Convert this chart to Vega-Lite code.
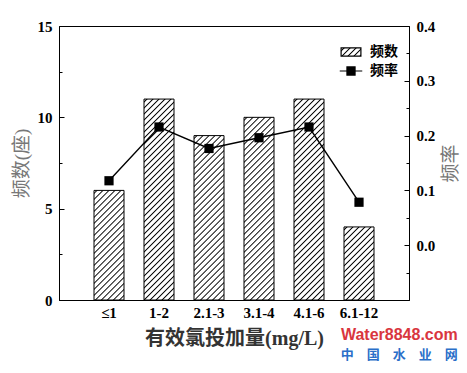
{
"$schema": "https://vega.github.io/schema/vega-lite/v6.json",
"width": 350, "height": 274,
"autosize": "none",
"padding": {"left": 59, "top": 26, "right": 58, "bottom": 73},
"background": "white",
"config": {
  "view": {"stroke": "#000", "strokeWidth": 1},
  "font": "Liberation Serif, Noto Sans CJK SC",
  "axis": {"domainColor": "#000", "tickColor": "#000", "labelColor": "#000", "grid": false, "labelFont": "Liberation Serif", "titleFont": "Liberation Serif, Noto Sans CJK SC"}
},
"title": {"text": "Water8848.com", "subtitle": "中　国　水　业　网", "orient": "bottom", "anchor": "end", "frame": "bounds", "offset": -21, "dx": -3, "font": "Liberation Sans", "fontSize": 16, "fontWeight": "bold", "color": "#d9363e", "subtitleFont": "Noto Sans CJK SC", "subtitleFontSize": 13, "subtitleColor": "#2a6fc9", "subtitleFontWeight": "bold", "subtitlePadding": 6},
"data": {"values": [
  {"cat": "≤1", "count": 6, "rate": 0.1176},
  {"cat": "1-2", "count": 11, "rate": 0.2157},
  {"cat": "2.1-3", "count": 9, "rate": 0.1765},
  {"cat": "3.1-4", "count": 10, "rate": 0.1961},
  {"cat": "4.1-6", "count": 11, "rate": 0.2157},
  {"cat": "6.1-12", "count": 4, "rate": 0.0784}
]},
"layer": [
  {"mark": {"type": "bar", "stroke": "#000", "strokeWidth": 1},
   "encoding": {
     "x": {"field": "cat", "type": "nominal", "scale": {"domain": ["≤1", "1-2", "2.1-3", "3.1-4", "4.1-6", "6.1-12"], "paddingInner": 0.4, "paddingOuter": 0.7},
           "axis": {"title": "有效氯投加量(mg/L)", "labelAngle": 0, "ticks": false, "labelFontSize": 15, "labelFontWeight": "bold", "labelPadding": 5, "titleFontSize": 20, "titleFontWeight": "bold", "titleColor": "#333", "titlePadding": 8}},
     "y": {"field": "count", "type": "quantitative", "scale": {"domain": [0, 15], "nice": false},
           "axis": {"orient": "left", "values": [0, 5, 10, 15], "tickSize": -5, "labelPadding": 12, "labelFontSize": 15, "labelFontWeight": "bold", "title": "频数(座)", "titleFontSize": 19, "titleFontWeight": "normal", "titleColor": "#777", "titlePadding": 6}},
     "fill": {"condition": [
       {"test": "datum.count == 4", "value": {"gradient": "linear", "x1": 0, "y1": 0, "x2": 1.154, "y2": 2.811, "stops": [
{"offset":0.007,"color":"#fff"},{"offset":0.0125,"color":"#000"},{"offset":0.018,"color":"#fff"},
{"offset":0.032,"color":"#fff"},{"offset":0.0375,"color":"#000"},{"offset":0.043,"color":"#fff"},
{"offset":0.057,"color":"#fff"},{"offset":0.0625,"color":"#000"},{"offset":0.068,"color":"#fff"},
{"offset":0.082,"color":"#fff"},{"offset":0.0875,"color":"#000"},{"offset":0.093,"color":"#fff"},
{"offset":0.107,"color":"#fff"},{"offset":0.1125,"color":"#000"},{"offset":0.118,"color":"#fff"},
{"offset":0.132,"color":"#fff"},{"offset":0.1375,"color":"#000"},{"offset":0.143,"color":"#fff"},
{"offset":0.157,"color":"#fff"},{"offset":0.1625,"color":"#000"},{"offset":0.168,"color":"#fff"},
{"offset":0.182,"color":"#fff"},{"offset":0.1875,"color":"#000"},{"offset":0.193,"color":"#fff"},
{"offset":0.207,"color":"#fff"},{"offset":0.2125,"color":"#000"},{"offset":0.218,"color":"#fff"},
{"offset":0.232,"color":"#fff"},{"offset":0.2375,"color":"#000"},{"offset":0.243,"color":"#fff"},
{"offset":0.257,"color":"#fff"},{"offset":0.2625,"color":"#000"},{"offset":0.268,"color":"#fff"},
{"offset":0.282,"color":"#fff"},{"offset":0.2875,"color":"#000"},{"offset":0.293,"color":"#fff"},
{"offset":0.307,"color":"#fff"},{"offset":0.3125,"color":"#000"},{"offset":0.318,"color":"#fff"},
{"offset":0.332,"color":"#fff"},{"offset":0.3375,"color":"#000"},{"offset":0.343,"color":"#fff"},
{"offset":0.357,"color":"#fff"},{"offset":0.3625,"color":"#000"},{"offset":0.368,"color":"#fff"},
{"offset":0.382,"color":"#fff"},{"offset":0.3875,"color":"#000"},{"offset":0.393,"color":"#fff"},
{"offset":0.407,"color":"#fff"},{"offset":0.4125,"color":"#000"},{"offset":0.418,"color":"#fff"},
{"offset":0.432,"color":"#fff"},{"offset":0.4375,"color":"#000"},{"offset":0.443,"color":"#fff"}
       ]}},
       {"test": "datum.count == 6", "value": {"gradient": "linear", "x1": 0, "y1": 0, "x2": 0.5576, "y2": 2.0371, "stops": [
{"offset":0.007,"color":"#fff"},{"offset":0.0125,"color":"#000"},{"offset":0.018,"color":"#fff"},
{"offset":0.032,"color":"#fff"},{"offset":0.0375,"color":"#000"},{"offset":0.043,"color":"#fff"},
{"offset":0.057,"color":"#fff"},{"offset":0.0625,"color":"#000"},{"offset":0.068,"color":"#fff"},
{"offset":0.082,"color":"#fff"},{"offset":0.0875,"color":"#000"},{"offset":0.093,"color":"#fff"},
{"offset":0.107,"color":"#fff"},{"offset":0.1125,"color":"#000"},{"offset":0.118,"color":"#fff"},
{"offset":0.132,"color":"#fff"},{"offset":0.1375,"color":"#000"},{"offset":0.143,"color":"#fff"},
{"offset":0.157,"color":"#fff"},{"offset":0.1625,"color":"#000"},{"offset":0.168,"color":"#fff"},
{"offset":0.182,"color":"#fff"},{"offset":0.1875,"color":"#000"},{"offset":0.193,"color":"#fff"},
{"offset":0.207,"color":"#fff"},{"offset":0.2125,"color":"#000"},{"offset":0.218,"color":"#fff"},
{"offset":0.232,"color":"#fff"},{"offset":0.2375,"color":"#000"},{"offset":0.243,"color":"#fff"},
{"offset":0.257,"color":"#fff"},{"offset":0.2625,"color":"#000"},{"offset":0.268,"color":"#fff"},
{"offset":0.282,"color":"#fff"},{"offset":0.2875,"color":"#000"},{"offset":0.293,"color":"#fff"},
{"offset":0.307,"color":"#fff"},{"offset":0.3125,"color":"#000"},{"offset":0.318,"color":"#fff"},
{"offset":0.332,"color":"#fff"},{"offset":0.3375,"color":"#000"},{"offset":0.343,"color":"#fff"},
{"offset":0.357,"color":"#fff"},{"offset":0.3625,"color":"#000"},{"offset":0.368,"color":"#fff"},
{"offset":0.382,"color":"#fff"},{"offset":0.3875,"color":"#000"},{"offset":0.393,"color":"#fff"},
{"offset":0.407,"color":"#fff"},{"offset":0.4125,"color":"#000"},{"offset":0.418,"color":"#fff"},
{"offset":0.432,"color":"#fff"},{"offset":0.4375,"color":"#000"},{"offset":0.443,"color":"#fff"},
{"offset":0.457,"color":"#fff"},{"offset":0.4625,"color":"#000"},{"offset":0.468,"color":"#fff"},
{"offset":0.482,"color":"#fff"},{"offset":0.4875,"color":"#000"},{"offset":0.493,"color":"#fff"},
{"offset":0.507,"color":"#fff"},{"offset":0.5125,"color":"#000"},{"offset":0.518,"color":"#fff"},
{"offset":0.532,"color":"#fff"},{"offset":0.5375,"color":"#000"},{"offset":0.543,"color":"#fff"},
{"offset":0.557,"color":"#fff"},{"offset":0.5625,"color":"#000"},{"offset":0.568,"color":"#fff"},
{"offset":0.582,"color":"#fff"},{"offset":0.5875,"color":"#000"},{"offset":0.593,"color":"#fff"}
       ]}},
       {"test": "datum.count == 9", "value": {"gradient": "linear", "x1": 0, "y1": 0, "x2": 0.2578, "y2": 1.4128, "stops": [
{"offset":0.007,"color":"#fff"},{"offset":0.0125,"color":"#000"},{"offset":0.018,"color":"#fff"},
{"offset":0.032,"color":"#fff"},{"offset":0.0375,"color":"#000"},{"offset":0.043,"color":"#fff"},
{"offset":0.057,"color":"#fff"},{"offset":0.0625,"color":"#000"},{"offset":0.068,"color":"#fff"},
{"offset":0.082,"color":"#fff"},{"offset":0.0875,"color":"#000"},{"offset":0.093,"color":"#fff"},
{"offset":0.107,"color":"#fff"},{"offset":0.1125,"color":"#000"},{"offset":0.118,"color":"#fff"},
{"offset":0.132,"color":"#fff"},{"offset":0.1375,"color":"#000"},{"offset":0.143,"color":"#fff"},
{"offset":0.157,"color":"#fff"},{"offset":0.1625,"color":"#000"},{"offset":0.168,"color":"#fff"},
{"offset":0.182,"color":"#fff"},{"offset":0.1875,"color":"#000"},{"offset":0.193,"color":"#fff"},
{"offset":0.207,"color":"#fff"},{"offset":0.2125,"color":"#000"},{"offset":0.218,"color":"#fff"},
{"offset":0.232,"color":"#fff"},{"offset":0.2375,"color":"#000"},{"offset":0.243,"color":"#fff"},
{"offset":0.257,"color":"#fff"},{"offset":0.2625,"color":"#000"},{"offset":0.268,"color":"#fff"},
{"offset":0.282,"color":"#fff"},{"offset":0.2875,"color":"#000"},{"offset":0.293,"color":"#fff"},
{"offset":0.307,"color":"#fff"},{"offset":0.3125,"color":"#000"},{"offset":0.318,"color":"#fff"},
{"offset":0.332,"color":"#fff"},{"offset":0.3375,"color":"#000"},{"offset":0.343,"color":"#fff"},
{"offset":0.357,"color":"#fff"},{"offset":0.3625,"color":"#000"},{"offset":0.368,"color":"#fff"},
{"offset":0.382,"color":"#fff"},{"offset":0.3875,"color":"#000"},{"offset":0.393,"color":"#fff"},
{"offset":0.407,"color":"#fff"},{"offset":0.4125,"color":"#000"},{"offset":0.418,"color":"#fff"},
{"offset":0.432,"color":"#fff"},{"offset":0.4375,"color":"#000"},{"offset":0.443,"color":"#fff"},
{"offset":0.457,"color":"#fff"},{"offset":0.4625,"color":"#000"},{"offset":0.468,"color":"#fff"},
{"offset":0.482,"color":"#fff"},{"offset":0.4875,"color":"#000"},{"offset":0.493,"color":"#fff"},
{"offset":0.507,"color":"#fff"},{"offset":0.5125,"color":"#000"},{"offset":0.518,"color":"#fff"},
{"offset":0.532,"color":"#fff"},{"offset":0.5375,"color":"#000"},{"offset":0.543,"color":"#fff"},
{"offset":0.557,"color":"#fff"},{"offset":0.5625,"color":"#000"},{"offset":0.568,"color":"#fff"},
{"offset":0.582,"color":"#fff"},{"offset":0.5875,"color":"#000"},{"offset":0.593,"color":"#fff"},
{"offset":0.607,"color":"#fff"},{"offset":0.6125,"color":"#000"},{"offset":0.618,"color":"#fff"},
{"offset":0.632,"color":"#fff"},{"offset":0.6375,"color":"#000"},{"offset":0.643,"color":"#fff"},
{"offset":0.657,"color":"#fff"},{"offset":0.6625,"color":"#000"},{"offset":0.668,"color":"#fff"},
{"offset":0.682,"color":"#fff"},{"offset":0.6875,"color":"#000"},{"offset":0.693,"color":"#fff"},
{"offset":0.707,"color":"#fff"},{"offset":0.7125,"color":"#000"},{"offset":0.718,"color":"#fff"},
{"offset":0.732,"color":"#fff"},{"offset":0.7375,"color":"#000"},{"offset":0.743,"color":"#fff"},
{"offset":0.757,"color":"#fff"},{"offset":0.7625,"color":"#000"},{"offset":0.768,"color":"#fff"},
{"offset":0.782,"color":"#fff"},{"offset":0.7875,"color":"#000"},{"offset":0.793,"color":"#fff"},
{"offset":0.807,"color":"#fff"},{"offset":0.8125,"color":"#000"},{"offset":0.818,"color":"#fff"}
       ]}},
       {"test": "datum.count == 10", "value": {"gradient": "linear", "x1": 0, "y1": 0, "x2": 0.2101, "y2": 1.2793, "stops": [
{"offset":0.007,"color":"#fff"},{"offset":0.0125,"color":"#000"},{"offset":0.018,"color":"#fff"},
{"offset":0.032,"color":"#fff"},{"offset":0.0375,"color":"#000"},{"offset":0.043,"color":"#fff"},
{"offset":0.057,"color":"#fff"},{"offset":0.0625,"color":"#000"},{"offset":0.068,"color":"#fff"},
{"offset":0.082,"color":"#fff"},{"offset":0.0875,"color":"#000"},{"offset":0.093,"color":"#fff"},
{"offset":0.107,"color":"#fff"},{"offset":0.1125,"color":"#000"},{"offset":0.118,"color":"#fff"},
{"offset":0.132,"color":"#fff"},{"offset":0.1375,"color":"#000"},{"offset":0.143,"color":"#fff"},
{"offset":0.157,"color":"#fff"},{"offset":0.1625,"color":"#000"},{"offset":0.168,"color":"#fff"},
{"offset":0.182,"color":"#fff"},{"offset":0.1875,"color":"#000"},{"offset":0.193,"color":"#fff"},
{"offset":0.207,"color":"#fff"},{"offset":0.2125,"color":"#000"},{"offset":0.218,"color":"#fff"},
{"offset":0.232,"color":"#fff"},{"offset":0.2375,"color":"#000"},{"offset":0.243,"color":"#fff"},
{"offset":0.257,"color":"#fff"},{"offset":0.2625,"color":"#000"},{"offset":0.268,"color":"#fff"},
{"offset":0.282,"color":"#fff"},{"offset":0.2875,"color":"#000"},{"offset":0.293,"color":"#fff"},
{"offset":0.307,"color":"#fff"},{"offset":0.3125,"color":"#000"},{"offset":0.318,"color":"#fff"},
{"offset":0.332,"color":"#fff"},{"offset":0.3375,"color":"#000"},{"offset":0.343,"color":"#fff"},
{"offset":0.357,"color":"#fff"},{"offset":0.3625,"color":"#000"},{"offset":0.368,"color":"#fff"},
{"offset":0.382,"color":"#fff"},{"offset":0.3875,"color":"#000"},{"offset":0.393,"color":"#fff"},
{"offset":0.407,"color":"#fff"},{"offset":0.4125,"color":"#000"},{"offset":0.418,"color":"#fff"},
{"offset":0.432,"color":"#fff"},{"offset":0.4375,"color":"#000"},{"offset":0.443,"color":"#fff"},
{"offset":0.457,"color":"#fff"},{"offset":0.4625,"color":"#000"},{"offset":0.468,"color":"#fff"},
{"offset":0.482,"color":"#fff"},{"offset":0.4875,"color":"#000"},{"offset":0.493,"color":"#fff"},
{"offset":0.507,"color":"#fff"},{"offset":0.5125,"color":"#000"},{"offset":0.518,"color":"#fff"},
{"offset":0.532,"color":"#fff"},{"offset":0.5375,"color":"#000"},{"offset":0.543,"color":"#fff"},
{"offset":0.557,"color":"#fff"},{"offset":0.5625,"color":"#000"},{"offset":0.568,"color":"#fff"},
{"offset":0.582,"color":"#fff"},{"offset":0.5875,"color":"#000"},{"offset":0.593,"color":"#fff"},
{"offset":0.607,"color":"#fff"},{"offset":0.6125,"color":"#000"},{"offset":0.618,"color":"#fff"},
{"offset":0.632,"color":"#fff"},{"offset":0.6375,"color":"#000"},{"offset":0.643,"color":"#fff"},
{"offset":0.657,"color":"#fff"},{"offset":0.6625,"color":"#000"},{"offset":0.668,"color":"#fff"},
{"offset":0.682,"color":"#fff"},{"offset":0.6875,"color":"#000"},{"offset":0.693,"color":"#fff"},
{"offset":0.707,"color":"#fff"},{"offset":0.7125,"color":"#000"},{"offset":0.718,"color":"#fff"},
{"offset":0.732,"color":"#fff"},{"offset":0.7375,"color":"#000"},{"offset":0.743,"color":"#fff"},
{"offset":0.757,"color":"#fff"},{"offset":0.7625,"color":"#000"},{"offset":0.768,"color":"#fff"},
{"offset":0.782,"color":"#fff"},{"offset":0.7875,"color":"#000"},{"offset":0.793,"color":"#fff"},
{"offset":0.807,"color":"#fff"},{"offset":0.8125,"color":"#000"},{"offset":0.818,"color":"#fff"},
{"offset":0.832,"color":"#fff"},{"offset":0.8375,"color":"#000"},{"offset":0.843,"color":"#fff"},
{"offset":0.857,"color":"#fff"},{"offset":0.8625,"color":"#000"},{"offset":0.868,"color":"#fff"},
{"offset":0.882,"color":"#fff"},{"offset":0.8875,"color":"#000"},{"offset":0.893,"color":"#fff"}
       ]}}
     ],
     "value": {"gradient": "linear", "x1": 0, "y1": 0, "x2": 0.1744, "y2": 1.1684, "stops": [
{"offset":0.007,"color":"#fff"},{"offset":0.0125,"color":"#000"},{"offset":0.018,"color":"#fff"},
{"offset":0.032,"color":"#fff"},{"offset":0.0375,"color":"#000"},{"offset":0.043,"color":"#fff"},
{"offset":0.057,"color":"#fff"},{"offset":0.0625,"color":"#000"},{"offset":0.068,"color":"#fff"},
{"offset":0.082,"color":"#fff"},{"offset":0.0875,"color":"#000"},{"offset":0.093,"color":"#fff"},
{"offset":0.107,"color":"#fff"},{"offset":0.1125,"color":"#000"},{"offset":0.118,"color":"#fff"},
{"offset":0.132,"color":"#fff"},{"offset":0.1375,"color":"#000"},{"offset":0.143,"color":"#fff"},
{"offset":0.157,"color":"#fff"},{"offset":0.1625,"color":"#000"},{"offset":0.168,"color":"#fff"},
{"offset":0.182,"color":"#fff"},{"offset":0.1875,"color":"#000"},{"offset":0.193,"color":"#fff"},
{"offset":0.207,"color":"#fff"},{"offset":0.2125,"color":"#000"},{"offset":0.218,"color":"#fff"},
{"offset":0.232,"color":"#fff"},{"offset":0.2375,"color":"#000"},{"offset":0.243,"color":"#fff"},
{"offset":0.257,"color":"#fff"},{"offset":0.2625,"color":"#000"},{"offset":0.268,"color":"#fff"},
{"offset":0.282,"color":"#fff"},{"offset":0.2875,"color":"#000"},{"offset":0.293,"color":"#fff"},
{"offset":0.307,"color":"#fff"},{"offset":0.3125,"color":"#000"},{"offset":0.318,"color":"#fff"},
{"offset":0.332,"color":"#fff"},{"offset":0.3375,"color":"#000"},{"offset":0.343,"color":"#fff"},
{"offset":0.357,"color":"#fff"},{"offset":0.3625,"color":"#000"},{"offset":0.368,"color":"#fff"},
{"offset":0.382,"color":"#fff"},{"offset":0.3875,"color":"#000"},{"offset":0.393,"color":"#fff"},
{"offset":0.407,"color":"#fff"},{"offset":0.4125,"color":"#000"},{"offset":0.418,"color":"#fff"},
{"offset":0.432,"color":"#fff"},{"offset":0.4375,"color":"#000"},{"offset":0.443,"color":"#fff"},
{"offset":0.457,"color":"#fff"},{"offset":0.4625,"color":"#000"},{"offset":0.468,"color":"#fff"},
{"offset":0.482,"color":"#fff"},{"offset":0.4875,"color":"#000"},{"offset":0.493,"color":"#fff"},
{"offset":0.507,"color":"#fff"},{"offset":0.5125,"color":"#000"},{"offset":0.518,"color":"#fff"},
{"offset":0.532,"color":"#fff"},{"offset":0.5375,"color":"#000"},{"offset":0.543,"color":"#fff"},
{"offset":0.557,"color":"#fff"},{"offset":0.5625,"color":"#000"},{"offset":0.568,"color":"#fff"},
{"offset":0.582,"color":"#fff"},{"offset":0.5875,"color":"#000"},{"offset":0.593,"color":"#fff"},
{"offset":0.607,"color":"#fff"},{"offset":0.6125,"color":"#000"},{"offset":0.618,"color":"#fff"},
{"offset":0.632,"color":"#fff"},{"offset":0.6375,"color":"#000"},{"offset":0.643,"color":"#fff"},
{"offset":0.657,"color":"#fff"},{"offset":0.6625,"color":"#000"},{"offset":0.668,"color":"#fff"},
{"offset":0.682,"color":"#fff"},{"offset":0.6875,"color":"#000"},{"offset":0.693,"color":"#fff"},
{"offset":0.707,"color":"#fff"},{"offset":0.7125,"color":"#000"},{"offset":0.718,"color":"#fff"},
{"offset":0.732,"color":"#fff"},{"offset":0.7375,"color":"#000"},{"offset":0.743,"color":"#fff"},
{"offset":0.757,"color":"#fff"},{"offset":0.7625,"color":"#000"},{"offset":0.768,"color":"#fff"},
{"offset":0.782,"color":"#fff"},{"offset":0.7875,"color":"#000"},{"offset":0.793,"color":"#fff"},
{"offset":0.807,"color":"#fff"},{"offset":0.8125,"color":"#000"},{"offset":0.818,"color":"#fff"},
{"offset":0.832,"color":"#fff"},{"offset":0.8375,"color":"#000"},{"offset":0.843,"color":"#fff"},
{"offset":0.857,"color":"#fff"},{"offset":0.8625,"color":"#000"},{"offset":0.868,"color":"#fff"},
{"offset":0.882,"color":"#fff"},{"offset":0.8875,"color":"#000"},{"offset":0.893,"color":"#fff"},
{"offset":0.907,"color":"#fff"},{"offset":0.9125,"color":"#000"},{"offset":0.918,"color":"#fff"},
{"offset":0.932,"color":"#fff"},{"offset":0.9375,"color":"#000"},{"offset":0.943,"color":"#fff"},
{"offset":0.957,"color":"#fff"},{"offset":0.9625,"color":"#000"},{"offset":0.968,"color":"#fff"}
     ]}}
   }},
  {"mark": {"type": "point", "opacity": 0},
   "encoding": {
     "y": {"field": "count", "type": "quantitative", "scale": {"domain": [0, 15], "nice": false},
           "axis": {"orient": "left", "values": [2.5, 7.5, 12.5], "tickSize": -3, "labels": false, "domain": false, "title": null}}
   }},
  {"mark": {"type": "line", "color": "#000", "strokeWidth": 1.4, "point": {"shape": "square", "size": 85, "filled": true, "color": "#000"}},
   "encoding": {
     "x": {"field": "cat", "type": "nominal"},
     "y": {"field": "rate", "type": "quantitative", "scale": {"domain": [-0.1, 0.4], "nice": false, "zero": false},
           "axis": {"orient": "right", "values": [0, 0.1, 0.2, 0.3, 0.4], "format": ".1f", "tickSize": -5, "labelPadding": 12, "labelFontSize": 15, "labelFontWeight": "bold", "title": "频率", "titleAngle": 270, "titleFontSize": 19, "titleFontWeight": "normal", "titleColor": "#777", "titlePadding": 26}}
   }},
  {"mark": {"type": "point", "opacity": 0},
   "encoding": {
     "y": {"field": "rate", "type": "quantitative", "scale": {"domain": [-0.1, 0.4], "nice": false, "zero": false},
           "axis": {"orient": "right", "values": [-0.05, 0.05, 0.15, 0.25, 0.35], "tickSize": -3, "labels": false, "domain": false, "title": null}}
   }},
  {"data": {"values": [{"s": "频数"}, {"s": "频率"}]},
   "mark": {"type": "point", "filled": true, "opacity": 0, "color": "#000"},
   "encoding": {
     "shape": {"field": "s", "type": "nominal",
       "scale": {"domain": ["频数", "频率"], "range": ["M-1.1,-0.45H1.1V0.45H-1.1Z", "M-1.25,0H-0.45M0.45,0H1.25M-0.45,-0.45H0.45V0.45H-0.45Z"]},
       "legend": {"title": null, "orient": "none", "legendX": 282, "legendY": 16, "symbolSize": 324, "labelFontSize": 14, "labelFont": "Noto Sans CJK SC", "labelFontWeight": "bold", "labelColor": "#000", "labelOffset": 9, "rowPadding": 2, "padding": 0, "symbolStrokeColor": "#000", "symbolStrokeWidth": 1.2, "symbolOpacity": 1,
         "encoding": {"symbols": {
           "stroke": {"value": "#000"}, "strokeWidth": {"value": 1.2}, "opacity": {"value": 1},
           "fill": {"condition": {"test": "datum.value === '频数'", "value": {"gradient": "linear", "x1": 0, "y1": 0, "x2": 10.383, "y2": 4.248, "stops": [
{"offset":0.007,"color":"#fff"},{"offset":0.0125,"color":"#000"},{"offset":0.018,"color":"#fff"},
{"offset":0.032,"color":"#fff"},{"offset":0.0375,"color":"#000"},{"offset":0.043,"color":"#fff"},
{"offset":0.057,"color":"#fff"},{"offset":0.0625,"color":"#000"},{"offset":0.068,"color":"#fff"},
{"offset":0.082,"color":"#fff"},{"offset":0.0875,"color":"#000"},{"offset":0.093,"color":"#fff"},
{"offset":0.107,"color":"#fff"},{"offset":0.1125,"color":"#000"},{"offset":0.118,"color":"#fff"}
             ]}},
             "value": "#000"}
           }}}}
   }}
],
"resolve": {"scale": {"y": "independent"}, "axis": {"y": "independent"}}
}
